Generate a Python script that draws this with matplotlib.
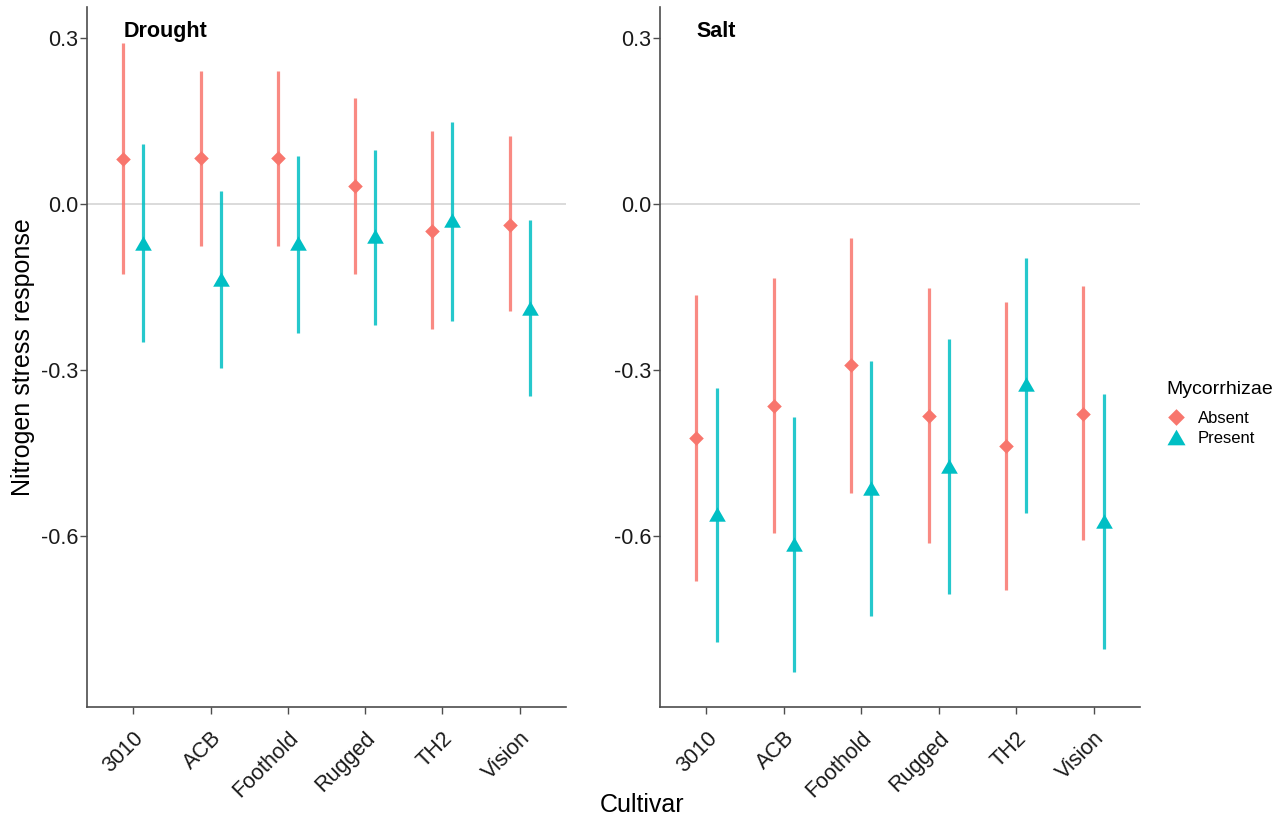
import matplotlib.pyplot as plt
import matplotlib.transforms as mtransforms
from matplotlib.lines import Line2D
import numpy as np

plt.rcParams['font.family'] = ['Liberation Sans', 'DejaVu Sans']

cultivars = ["3010", "ACB", "Foothold", "Rugged", "TH2", "Vision"]
yticks = [0.3, 0.0, -0.3, -0.6]

# Drought panel: mean, lower, upper
drought_absent = [0.081, 0.083, 0.083, 0.033, -0.048, -0.037]
drought_absent_lo = [-0.126, -0.075, -0.075, -0.126, -0.225, -0.194]
drought_absent_hi = [0.290, 0.241, 0.241, 0.191, 0.131, 0.122]
drought_present = [-0.070, -0.135, -0.071, -0.058, -0.028, -0.187]
drought_present_lo = [-0.249, -0.296, -0.232, -0.218, -0.211, -0.346]
drought_present_hi = [0.108, 0.024, 0.087, 0.098, 0.148, -0.029]

# Salt panel
salt_absent = [-0.423, -0.364, -0.290, -0.383, -0.437, -0.379]
salt_absent_lo = [-0.681, -0.593, -0.521, -0.612, -0.696, -0.607]
salt_absent_hi = [-0.164, -0.133, -0.062, -0.152, -0.177, -0.148]
salt_present = [-0.560, -0.614, -0.512, -0.473, -0.325, -0.572]
salt_present_lo = [-0.791, -0.845, -0.743, -0.704, -0.557, -0.803]
salt_present_hi = [-0.333, -0.385, -0.283, -0.244, -0.097, -0.343]

red = "#F8766D"
teal = "#00BFC4"
diamond = [(0, 1), (1, 0), (0, -1), (-1, 0)]
tri = [(-1, -0.866), (1, -0.866), (0, 0.866)]

fig = plt.figure(figsize=(12.86, 8.22), dpi=100)
W, H = 1286, 822
ax1 = fig.add_axes([87 / W, 1 - 707 / H, 479 / W, 700 / H])
ax2 = fig.add_axes([660 / W, 1 - 707 / H, 480 / W, 700 / H])

panels = [
    (ax1, "Drought", drought_absent, drought_absent_lo, drought_absent_hi,
     drought_present, drought_present_lo, drought_present_hi),
    (ax2, "Salt", salt_absent, salt_absent_lo, salt_absent_hi,
     salt_present, salt_present_lo, salt_present_hi),
]

x = np.arange(len(cultivars))
dodge = 0.13
for ax, name, a, alo, ahi, p, plo, phi in panels:
    ax.axhline(0, color="#d4d4d4", lw=1.2, zorder=0)
    ax.vlines(x - dodge, alo, ahi, color=red, lw=2.3, alpha=0.85)
    ax.vlines(x + dodge, plo, phi, color=teal, lw=2.3, alpha=0.85)
    ax.plot(x - dodge, a, ls="none", marker=diamond, ms=10.5, color=red, mew=0)
    ax.plot(x + dodge, p, ls="none", marker=tri, ms=12, color=teal, mew=0)
    ax.set_xlim(-0.6, len(cultivars) - 0.4)
    ax.set_ylim(-0.908, 0.3557)
    ax.set_yticks(yticks)
    ax.set_yticklabels([f"{v:.1f}" for v in yticks])
    ax.set_xticks(x)
    ax.set_xticklabels(cultivars, rotation=45, ha="right", va="top",
                       rotation_mode="anchor")
    off = mtransforms.ScaledTranslation(8 / 72, 0, fig.dpi_scale_trans)
    for lab in ax.get_xticklabels():
        lab.set_transform(lab.get_transform() + off)
    for s in ["top", "right"]:
        ax.spines[s].set_visible(False)
    for s in ["left", "bottom"]:
        ax.spines[s].set_color("#4d4d4d")
        ax.spines[s].set_linewidth(1.2)
    ax.tick_params(axis="both", colors="#4d4d4d", length=5, width=1,
                   labelsize=15.5, labelcolor="#1a1a1a")
    ax.tick_params(axis="x", pad=10)
    ax.tick_params(axis="y", pad=1.5)
    ax.text(-dodge, 0.312, name, fontsize=15.5, fontweight="bold",
            ha="left", va="center")

fig.text(23 / W, 1 - 357 / H, "Nitrogen stress response", rotation=90,
         fontsize=18, ha="center", va="center")
fig.text(642 / W, 1 - 805 / H, "Cultivar", fontsize=18, ha="center",
         va="center")

# legend
fig.text(1166 / W, 1 - 389 / H, "Mycorrhizae", fontsize=14, ha="left",
         va="center")
handles = [
    Line2D([], [], ls="none", marker=diamond, ms=12, color=red, mew=0),
    Line2D([], [], ls="none", marker=tri, ms=13, color=teal, mew=0),
]
fig.legend(handles, ["Absent", "Present"], loc="center left",
           bbox_to_anchor=(1168 / W, 1 - 428.5 / H), frameon=False,
           fontsize=12, handlelength=1.0, handletextpad=0.8,
           labelspacing=0.32, borderpad=0, borderaxespad=0)

fig.savefig("out.png", dpi=100)
